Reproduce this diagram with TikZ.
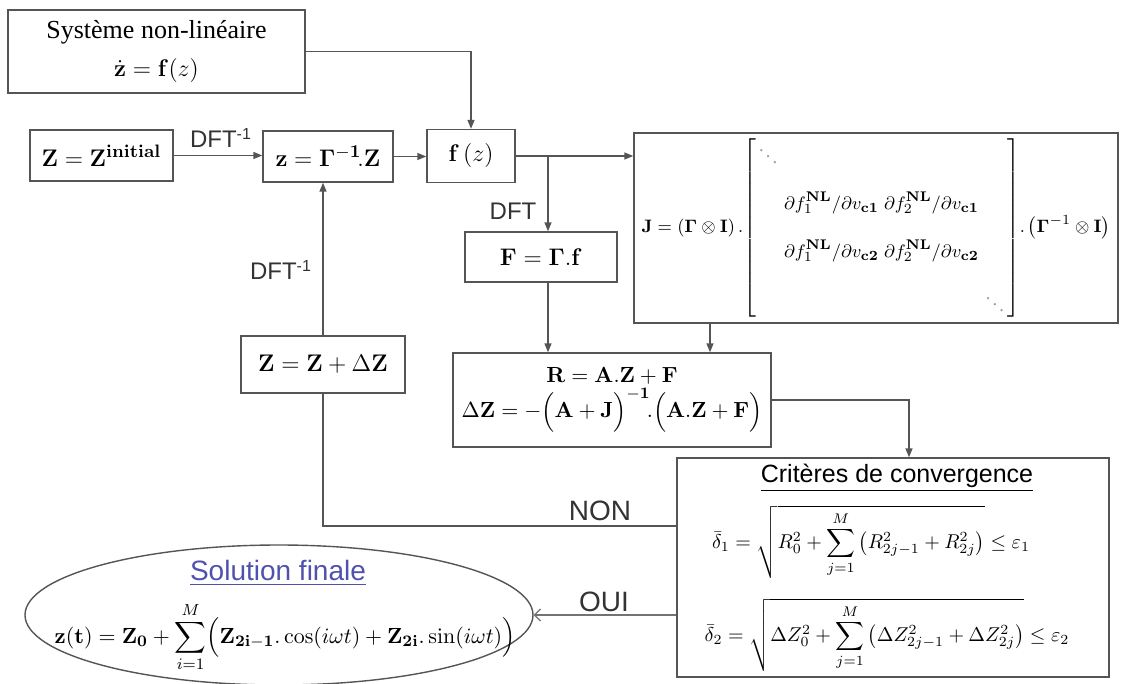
\documentclass[tikz,border=0pt]{standalone}
\usepackage{amsmath}
\usepackage{amssymb}
\usepackage[no-math]{fontspec}
\setmainfont{Liberation Serif}
\setsansfont{Liberation Sans}
\usepackage{tikz}
\usetikzlibrary{positioning,arrows.meta,shapes.geometric,calc}
\definecolor{linegray}{RGB}{85,85,85}
\definecolor{solblue}{RGB}{80,80,175}

\begin{document}
\begin{tikzpicture}[x=0.5pt,y=-0.5pt,
  box/.style={draw=linegray,line width=0.7pt,inner sep=1pt,align=center,font=\fontsize{13}{16}\selectfont},
  arr/.style={draw=linegray,line width=0.7pt,-{Triangle[length=4.5pt,width=3.5pt]}},
  plain/.style={draw=linegray,line width=0.7pt},
  oarr/.style={draw=black!55,line width=0.6pt,-{Straight Barb[length=3pt,width=6pt]}},
  lbl/.style={font=\sffamily\fontsize{12}{14}\selectfont,text=black!80}]
  \useasboundingbox (0,0) rectangle (1144,684);
  % boxes
  \node[box,minimum width=148.5pt,minimum height=41.5pt] (sys) at (156.5,51.5)
    {Système non-linéaire\\[3pt] $\dot{\mathbf{z}}=\mathbf{f}(z)$};
  \node[box,minimum width=71.5pt,minimum height=25.5pt] (zinit) at (101.5,155.5)
    {$\mathbf{Z}=\mathbf{Z}^{\mathbf{initial}}$};
  \node[box,minimum width=65pt,minimum height=25.5pt] (zbox) at (328,156.5)
    {$\mathbf{z}=\mathbf{\Gamma}^{\mathbf{-1}}\!.\mathbf{Z}$};
  \node[box,minimum width=44pt,minimum height=26.5pt] (fz) at (471,156)
    {$\mathbf{f}\left(z\right)$};
  \node[box,minimum width=76pt,minimum height=25pt] (fbox) at (541,257)
    {$\mathbf{F}=\mathbf{\Gamma}.\mathbf{f}$};
  \node[box,minimum width=242pt,minimum height=95pt,inner sep=0.5pt,font=\fontsize{9.3}{11.2}\selectfont] (jac) at (876,228)
    {$\mathbf{J}=\left(\mathbf{\Gamma}\otimes\mathbf{I}\right).\!\left[\begin{array}{@{\hspace{1pt}}c@{\hspace{3pt}}c@{\hspace{3pt}}c@{\hspace{1pt}}}
      {\color{black!40}\ddots} & & \\[10pt]
      & \partial f_1^{\mathbf{NL}}/\partial v_{\mathbf{c1}}\;\partial f_2^{\mathbf{NL}}/\partial v_{\mathbf{c1}} & \\[12pt]
      & \partial f_1^{\mathbf{NL}}/\partial v_{\mathbf{c2}}\;\partial f_2^{\mathbf{NL}}/\partial v_{\mathbf{c2}} & \\[10pt]
      & & {\color{black!40}\ddots}
    \end{array}\right]\!.\left(\mathbf{\Gamma}^{-1}\otimes\mathbf{I}\right)$};
  \node[box,minimum width=159pt,minimum height=47pt,font=\fontsize{11}{14}\selectfont] (rbox) at (612,400)
    {$\mathbf{R}=\mathbf{A}.\mathbf{Z}+\mathbf{F}$\\[1pt]
     $\Delta\mathbf{Z}=-\Bigl(\mathbf{A}+\mathbf{J}\Bigr)^{\mathbf{-1}}\!.\Bigl(\mathbf{A}.\mathbf{Z}+\mathbf{F}\Bigr)$};
  \node[box,minimum width=82pt,minimum height=28.5pt] (zdz) at (323,364.5)
    {$\mathbf{Z}=\mathbf{Z}+\Delta\mathbf{Z}$};
  \node[box,minimum width=216pt,minimum height=109.5pt] (crit) at (893,567.5) {};
  \node[font=\sffamily\fontsize{12.5}{14}\selectfont] (crittitle) at (897,478) {\underline{Critères de convergence}};
  \node[font=\fontsize{10}{12}\selectfont] (delta1) at (871,542)
    {$\displaystyle\bar{\delta}_1=\sqrt{R_0^2+\sum_{j=1}^{M}\left(R_{2j-1}^2+R_{2j}^2\right)}\le\varepsilon_1$};
  \node[font=\fontsize{10}{12}\selectfont] (delta2) at (887,635)
    {$\displaystyle\bar{\delta}_2=\sqrt{\Delta Z_0^2+\sum_{j=1}^{M}\left(\Delta Z_{2j-1}^2+\Delta Z_{2j}^2\right)}\le\varepsilon_2$};
  % final solution
  \node[draw=linegray,line width=0.7pt,ellipse,minimum width=254pt,minimum height=70pt,inner sep=0pt] (sol) at (279,615) {};
  \node[font=\sffamily\fontsize{14}{16}\selectfont,text=solblue] (soltitle) at (278,573) {\underline{Solution finale}};
  \node[font=\fontsize{11}{13}\selectfont] (solform) at (285,637)
    {$\mathbf{z}(\mathbf{t})=\mathbf{Z}_{\mathbf{0}}+\displaystyle\sum_{i=1}^{M}\Bigl(\mathbf{Z}_{\mathbf{2i-1}}.\cos(i\omega t)+\mathbf{Z}_{\mathbf{2i}}.\sin(i\omega t)\Bigr)$};
  % labels
  \node[lbl] (dftinv1) at (221,138) {DFT\textsuperscript{-1}};
  \node[lbl] (dft) at (513,211) {DFT};
  \node[lbl] (dftinv2) at (281,270) {DFT\textsuperscript{-1}};
  \node[lbl,font=\sffamily\fontsize{14}{16}\selectfont] (non) at (600,511) {NON};
  \node[lbl,font=\sffamily\fontsize{14}{16}\selectfont] (oui) at (604,602) {OUI};
  % arrows
  \coordinate (split) at (548,156);
  \draw[arr] (sys.east) -| (fz.north);
  \draw[arr] (zinit.east) -- (zinit.east -| zbox.west);
  \draw[arr] (zbox.east) -- (zbox.east -| fz.west);
  \draw[arr] (fz.east) -- (fz.east -| jac.west);
  \draw[arr] (split) -- (split |- fbox.north);
  \draw[arr] (split |- fbox.south) -- (split |- rbox.north);
  \draw[arr] ([xshift=-83pt]jac.south) -- ([xshift=-83pt]jac.south |- rbox.north);
  \draw[arr] (rbox.east) -| ([xshift=8pt]crit.north);
  \draw[plain] ([yshift=20.75pt]crit.west) -| (zdz.south);
  \draw[arr] (zdz.north) -- (zdz.north |- zbox.south);
  \draw[oarr] ([yshift=-23.75pt]crit.west) -- (sol.east);
\end{tikzpicture}
\end{document}
